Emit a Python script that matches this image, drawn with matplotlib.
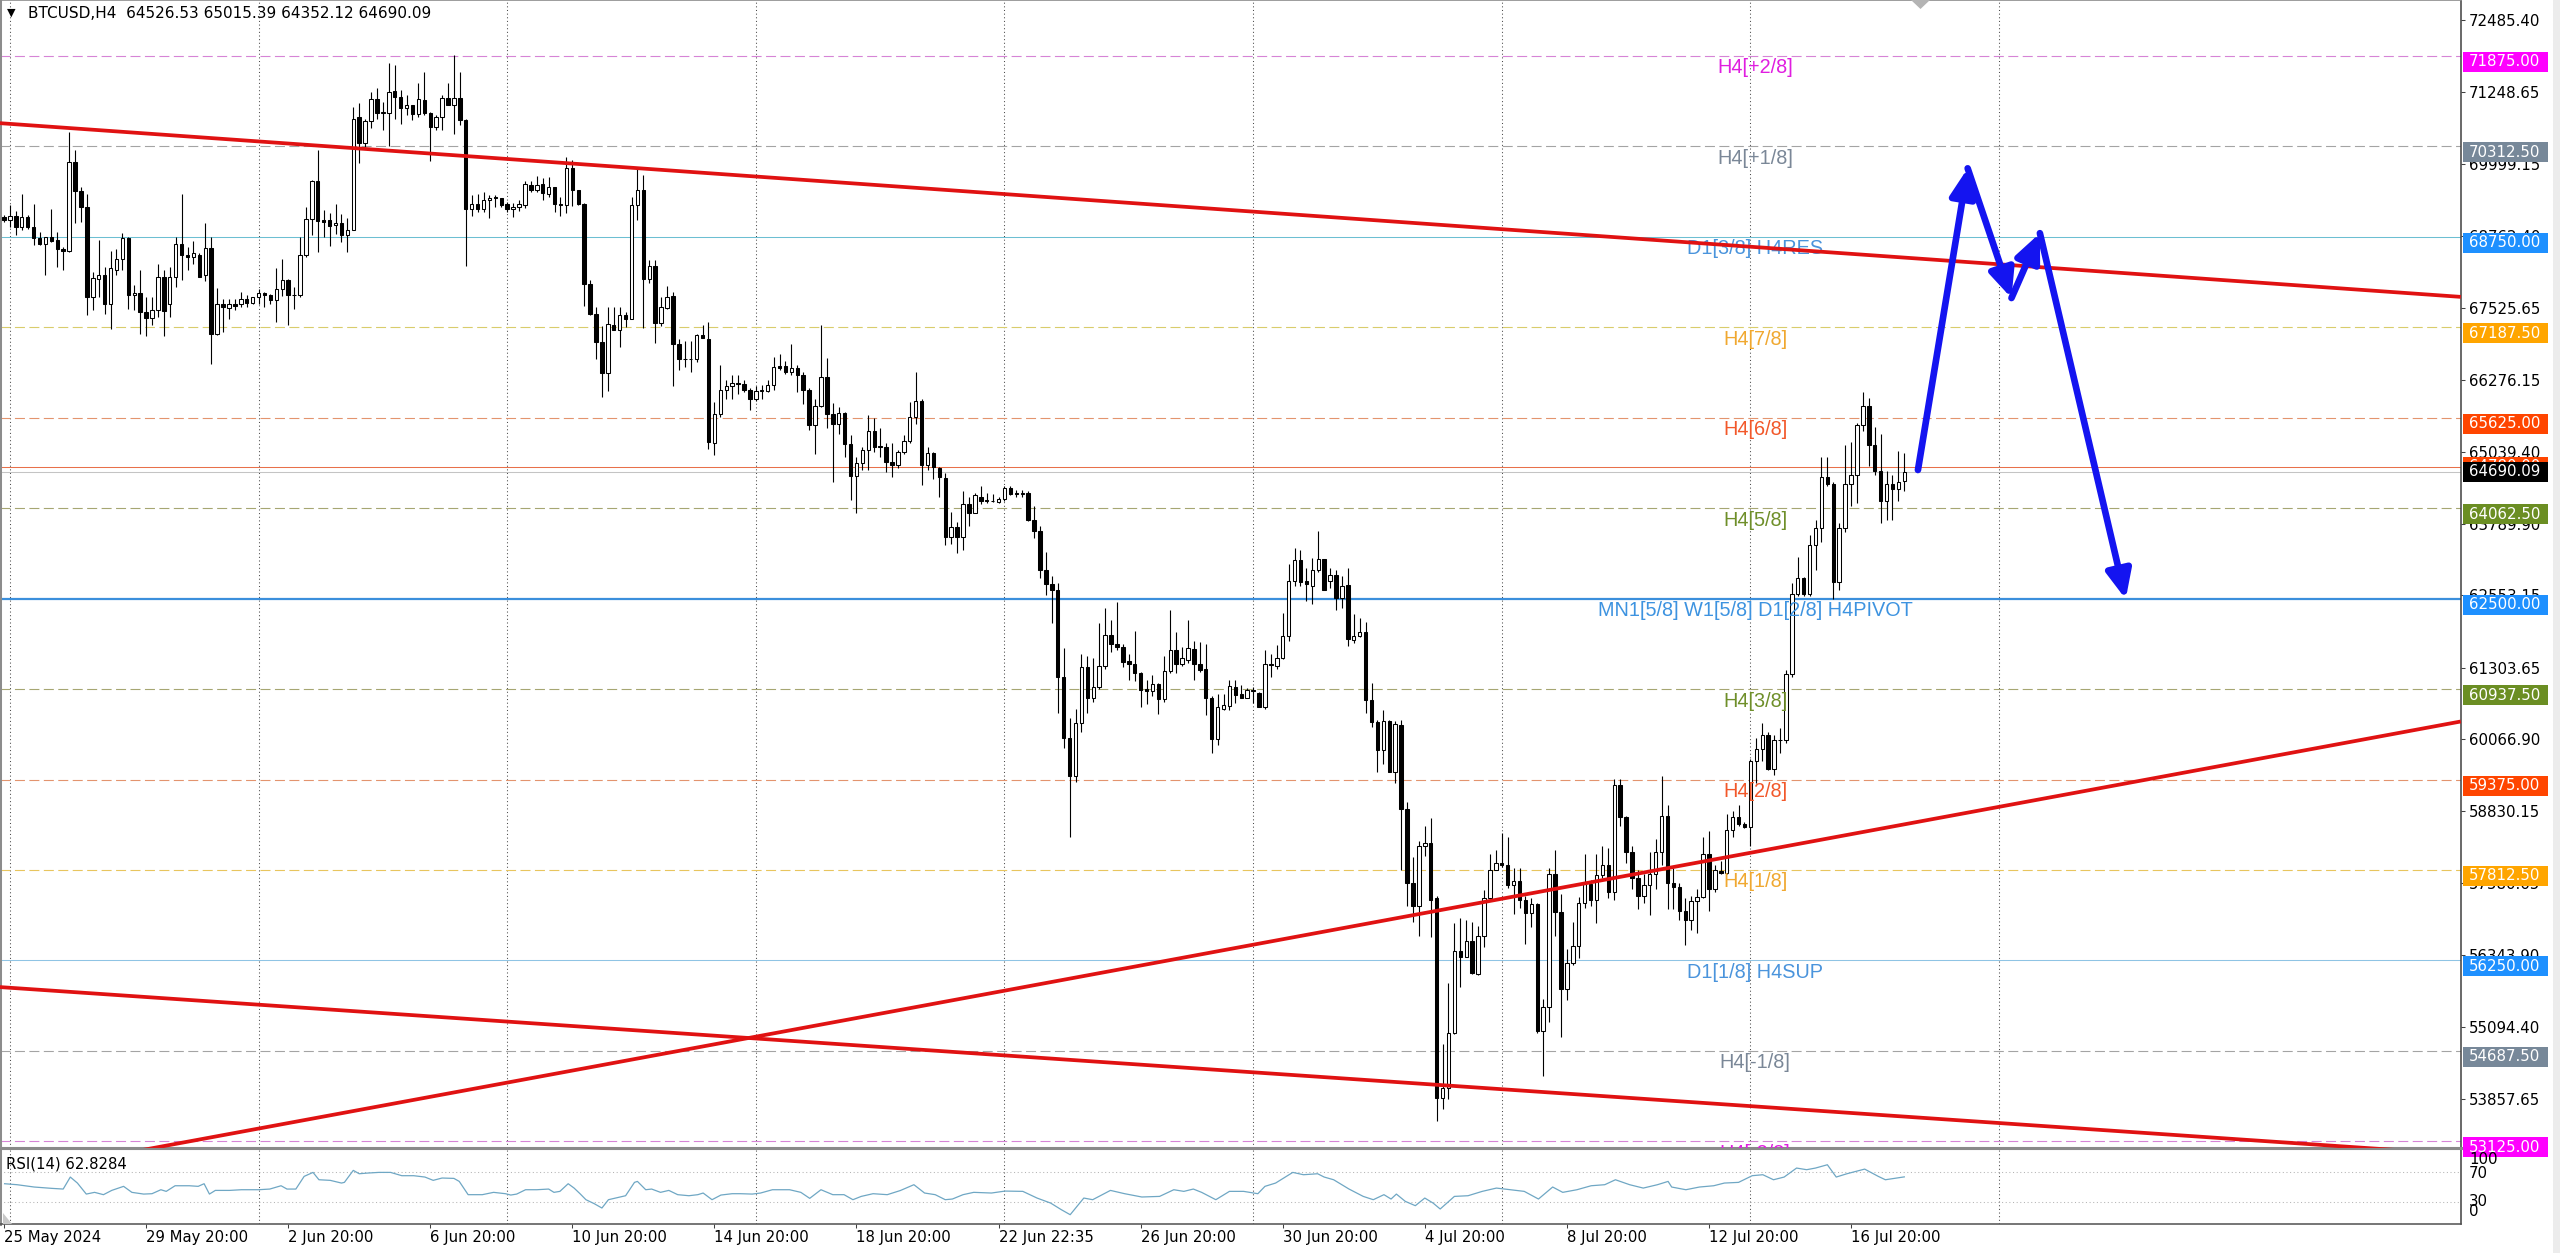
import matplotlib
matplotlib.use("Agg")
import matplotlib.pyplot as plt
from matplotlib.patches import Rectangle, Polygon

plt.rcParams["font.family"] = ["DejaVu Sans"]

# ---------------- data (BTCUSD H4) ----------------
opens = [
    69090, 69030, 69100, 68910, 69090, 68920, 68730, 68630, 68740, 68690,
    68540, 68510, 70040, 69540, 69260, 67700, 68020, 68080, 67590, 68180,
    68370, 68720, 67750, 67780, 67450, 67350, 67480, 68050, 67590, 68050,
    68620, 68430, 68400, 68440, 68080, 68560, 67070, 67580, 67520, 67580,
    67580, 67680, 67610, 67700, 67780, 67750, 67650, 67850, 68010, 67740,
    67740, 68430, 69060, 69710, 69030, 69030, 68950, 68990, 68770, 68870,
    70810, 70360, 70750, 71120, 70890, 70890, 71270, 71170, 70980, 71020,
    70870, 71110, 70890, 70640, 70810, 71150, 71020, 71140, 70770, 69230,
    69310, 69230, 69380, 69440, 69410, 69310, 69220, 69260, 69290, 69640,
    69560, 69660, 69490, 69600, 69320, 69290, 69930, 69550, 69320, 67940,
    67420, 66930, 66390, 67230, 67140, 67400, 67330, 69290, 69560, 68020,
    68250, 67260, 67520, 67720, 66900, 66640, 66630, 66630, 67060, 66990,
    65180, 65690, 66110, 66170, 66220, 66210, 66100, 65950, 66090, 66090,
    66180, 66510, 66510, 66410, 66480, 66360, 66110, 65490, 65820, 66330,
    65690, 65520, 65710, 65170, 64610, 64840, 65060, 65400, 65130, 65120,
    64860, 64800, 65030, 65220, 65630, 65920, 64800, 65020, 64750, 64590,
    63560, 63730, 63560, 64130, 63980, 64260, 64210, 64190, 64170, 64220,
    64410, 64320, 64310, 64320, 63850, 63670, 63000, 62750, 62640, 61140,
    60090, 59430, 60350, 61310, 60790, 60970, 61330, 61870, 61710, 61660,
    61430, 61370, 61220, 60930, 60910, 61020, 60760, 61250, 61610, 61370,
    61440, 61630, 61370, 61280, 60780, 60070, 60600, 60650, 60980, 60850,
    60790, 60920, 60870, 60620, 61370, 61330, 61470, 61850, 62810, 63160,
    62800, 62720, 62990, 63180, 62800, 62910, 62510, 62730, 61780, 61850,
    61930, 60740, 60370, 59890, 60390, 59500, 60320, 58860, 57590, 57190,
    58220, 58280, 57320, 53880, 54040, 55000, 56410, 56310, 56580, 56020,
    56680, 57330, 57820, 57930, 57890, 57550, 57620, 57290, 57070, 57230,
    55040, 55450, 57740, 57090, 55760, 56200, 56500, 57250, 57570, 57290,
    57720, 57890, 57440, 59280, 58720, 58120, 57670, 57370, 57550, 57740,
    58120, 58750, 57590, 57520, 57100, 56950, 57280, 57350, 58080, 57480,
    57790, 57760, 58510, 58720, 58600, 58550, 59690, 59910, 60150, 59550,
    60060, 60050, 61190, 62580, 62850, 62580, 63420, 63720, 64600, 64470,
    62780, 63720, 64470, 64640, 65500, 65820, 65150, 64700, 64190, 64470,
    64400, 64526.53,
]
highs = [
    69120, 69290, 69200, 69480, 69120, 69310, 68830, 68740, 69220, 68830,
    68570, 70560, 70240, 69610, 69480, 68140, 68700, 68230, 68500, 68540,
    68810, 68740, 67910, 68170, 67710, 67710, 68280, 68170, 68230, 68740,
    69490, 68570, 68680, 68460, 68980, 68740, 67870, 67680, 67680, 67680,
    67790, 67740, 67710, 67850, 67790, 67760, 68200, 68370, 68020, 67880,
    68740, 69260, 69720, 70240, 69210, 69150, 69310, 69140, 69080, 70990,
    71050, 70790, 71250, 71310, 71080, 71750, 71710, 71280, 71200, 71020,
    71400, 71600, 70910, 70850, 71200, 71400, 71890, 71600, 70790, 69470,
    69490, 69520, 69470, 69470, 69410, 69350, 69330, 69390, 69710, 69710,
    69790, 69770, 69780, 69600, 69440, 70130, 70080, 69550, 69330, 68000,
    67530, 67200, 67530, 67530, 67530, 67450, 69440, 69960, 69810, 68350,
    68350, 67700, 67900, 67800, 66990, 66950, 66950, 67070, 67220, 67270,
    65900, 66530, 66270, 66360, 66360, 66270, 66130, 66170, 66180, 66270,
    66670, 66730, 66600, 66890, 66530, 66410, 66140, 65950, 67230, 66660,
    65870, 65800, 65720, 65320, 64950, 65120, 65670, 65610, 65440, 65190,
    65190, 65060, 65320, 65900, 66410, 65940, 65120, 65030, 64780, 64660,
    64000, 63830, 64350, 64250, 64320, 64450, 64320, 64310, 64250, 64450,
    64450, 64380, 64370, 64360, 64090, 63760, 63300, 62890, 62770, 61640,
    60430, 60600, 61540, 61500, 61480, 62070, 62330, 62130, 62440, 61710,
    61550, 61940, 61240, 61090, 61180, 61040, 61500, 62300, 61930, 61670,
    62130, 61770, 61750, 61710, 60820, 60860, 60860, 61090, 61090, 61010,
    60950, 60970, 60890, 61620, 61540, 61700, 62250, 63100, 63370, 63330,
    63030, 63200, 63670, 63180, 63030, 62990, 62890, 63030, 62240, 62170,
    62090, 61050, 60410, 60570, 60400, 60390, 60400, 58980, 58030, 58320,
    58570, 58710, 57360, 54800, 55860, 56890, 56990, 56950, 56920, 56850,
    57470, 58080, 58160, 58450, 58390, 57840, 57840, 57360, 57330, 57250,
    55590, 57840, 58160, 57400, 56440, 56920, 57340, 58080, 57640, 58080,
    58220, 58190, 59390, 59390, 58750, 58230, 57820, 57740, 58120, 58340,
    59430, 58940, 57850, 57590, 57330, 57370, 57480, 58380, 58490, 57890,
    57970, 58780, 58830, 58940, 58640, 59730, 60100, 60350, 60200, 60140,
    60270, 61260, 62760, 63210, 62880, 63600, 63850, 64950, 64940, 64520,
    63810, 65160, 65200, 65540, 66070, 65970, 65460, 65350, 64710, 64640,
    65050, 65015.39,
]
lows = [
    69000, 68920, 68770, 68860, 68890, 68600, 68600, 68080, 68660, 68230,
    68170, 68490, 68980, 69000, 67390, 67480, 67710, 67420, 67160, 68080,
    68170, 67500, 67480, 67070, 67040, 67220, 67360, 67040, 67360, 67880,
    68000, 68170, 68280, 68050, 67980, 66550, 67060, 67100, 67330, 67480,
    67530, 67530, 67590, 67590, 67530, 67590, 67270, 67720, 67220, 67500,
    67710, 68400, 68770, 68490, 68740, 68580, 68800, 68660, 68490, 68860,
    70020, 70300, 70620, 70790, 70590, 70310, 70790, 70700, 70850, 70760,
    70820, 70850, 70060, 70590, 70600, 71020, 70530, 70680, 68240, 69100,
    69180, 69180, 69080, 69260, 69260, 69180, 69090, 69190, 69250, 69520,
    69520, 69380, 69440, 69180, 69100, 69150, 69280, 69290, 67560, 67390,
    66640, 65980, 66090, 67130, 66840, 67190, 67330, 69030, 67180, 67950,
    66910, 67200, 67500, 66170, 66450, 66500, 66410, 66580, 67000, 65090,
    64980, 65640, 65950, 65950, 66040, 66070, 65760, 65920, 65950, 66070,
    66100, 66440, 66380, 66360, 66070, 65860, 65410, 64990, 65800, 65440,
    64520, 65350, 64950, 64200, 63980, 64720, 64720, 65030, 64950, 64690,
    64600, 64750, 65000, 65180, 65520, 64460, 64720, 64560, 64260, 63430,
    63450, 63280, 63340, 63750, 63970, 64140, 64150, 64170, 64150, 64190,
    64280, 64260, 64250, 63840, 63550, 62850, 62560, 62070, 60520, 59920,
    58390, 59340, 60200, 60530, 60720, 60930, 61290, 61580, 61610, 61320,
    61100, 61080, 60620, 60680, 60810, 60510, 60720, 61220, 61220, 61330,
    61380, 61090, 61240, 60490, 59830, 59970, 60580, 60580, 60690, 60780,
    60780, 60690, 60620, 60590, 61150, 61280, 61460, 61770, 62720, 62720,
    62450, 62410, 62960, 62650, 62690, 62310, 62340, 61680, 61730, 61830,
    60520, 60280, 59500, 59650, 59500, 59310, 57820, 57190, 56910, 56680,
    58050, 56650, 53470, 53680, 53850, 54980, 55790, 56310, 56020, 56000,
    56480, 57290, 57810, 57870, 57500, 57060, 57160, 56540, 56820, 55000,
    54260, 55180, 56680, 54930, 55560, 56170, 56290, 57160, 57190, 56890,
    57670, 57330, 57290, 58570, 57930, 57480, 57140, 57250, 57030, 57480,
    57890, 57140, 57140, 56950, 56510, 56770, 56730, 57330, 57100, 57440,
    57740, 57740, 58380, 58570, 58530, 58230, 59310, 59690, 59540, 59460,
    59840, 60000, 61150, 62540, 62540, 62540, 62990, 63470, 64450, 62500,
    62650, 63650, 64100, 64150, 65390, 64790, 64640, 63810, 63850, 63850,
    64190, 64352.12,
]
closes = [
    69030, 69100, 68920, 69090, 68920, 68730, 68630, 68740, 68680, 68530,
    68510, 70040, 69540, 69260, 67700, 68040, 68080, 67590, 68200, 68370,
    68720, 67750, 67780, 67450, 67350, 67480, 68050, 67460, 68050, 68620,
    68430, 68400, 68460, 68050, 68560, 67070, 67580, 67530, 67580, 67560,
    67680, 67610, 67700, 67780, 67750, 67650, 67850, 68010, 67740, 67750,
    68430, 69060, 69710, 69020, 69000, 68930, 68990, 68770, 68870, 70790,
    70360, 70750, 71120, 70890, 70910, 71250, 71170, 70980, 71020, 70870,
    71120, 70890, 70640, 70810, 71150, 71020, 71140, 70770, 69230, 69310,
    69230, 69380, 69410, 69410, 69290, 69220, 69260, 69310, 69660, 69560,
    69640, 69510, 69610, 69320, 69290, 69930, 69550, 69320, 67940, 67420,
    66930, 66390, 67250, 67140, 67400, 67330, 69290, 69560, 68020, 68250,
    67260, 67530, 67700, 66900, 66630, 66630, 66640, 67060, 67000, 65210,
    65690, 66110, 66170, 66220, 66200, 66100, 65950, 66090, 66100, 66180,
    66500, 66490, 66410, 66480, 66360, 66100, 65490, 65820, 66330, 65690,
    65520, 65710, 65170, 64610, 64840, 65060, 65400, 65120, 65110, 64860,
    64800, 65030, 65220, 65630, 65920, 64800, 65020, 64780, 64600, 63560,
    63730, 63560, 64130, 63980, 64280, 64180, 64180, 64180, 64220, 64410,
    64310, 64310, 64320, 63850, 63670, 63000, 62750, 62640, 61140, 60090,
    59430, 60350, 61310, 60790, 60970, 61330, 61870, 61710, 61660, 61410,
    61370, 61220, 60920, 60910, 61020, 60760, 61250, 61610, 61370, 61470,
    61640, 61370, 61270, 60780, 60070, 60620, 60660, 60990, 60830, 60790,
    60920, 60910, 60630, 61370, 61350, 61470, 61850, 62810, 63160, 62790,
    62750, 62990, 63180, 62650, 62910, 62510, 62720, 61800, 61850, 61930,
    60740, 60370, 59890, 60390, 59500, 60330, 58860, 57590, 57190, 58220,
    58280, 57290, 53880, 54040, 55000, 56410, 56310, 56580, 56030, 56680,
    57330, 57820, 57930, 57890, 57550, 57620, 57290, 57070, 57230, 55040,
    55450, 57740, 57090, 55760, 56200, 56500, 57250, 57570, 57290, 57720,
    57890, 57440, 59280, 58720, 58120, 57670, 57370, 57550, 57740, 58120,
    58750, 57590, 57520, 57100, 56950, 57280, 57350, 58080, 57480, 57820,
    57760, 58510, 58720, 58600, 58550, 59690, 59910, 60140, 59550, 60060,
    60050, 61190, 62580, 62850, 62580, 63420, 63720, 64600, 64470, 62780,
    63720, 64470, 64640, 65500, 65820, 65150, 64700, 64190, 64470, 64400,
    64520, 64690.09,
]

# RSI(14) polyline vertices (bar position, value)
rsi_bar = [
    0.1, 2.2, 5.1, 8.1, 10.0, 11.2, 12.4, 13.9, 15.3, 16.8,
    18.2, 20.2, 21.6, 23.6, 25.0, 26.5, 27.4, 28.9, 31.3, 32.8,
    33.8, 34.7, 35.7, 38.1, 40.1, 43.0, 44.9, 46.8, 47.8, 49.3,
    50.7, 52.2, 53.2, 55.1, 57.0, 57.5, 59.0, 60.0, 61.4, 63.3,
    65.3, 67.2, 69.2, 71.1, 72.5, 74.0, 76.0, 76.9, 78.4, 80.8,
    82.7, 84.7, 85.6, 86.6, 88.1, 90.0, 92.0, 92.9, 93.9, 95.3,
    96.3, 97.3, 98.3, 99.7, 101.0, 102.1, 103.1, 105.0, 106.5, 107.0,
    108.4, 109.4, 110.9, 112.3, 113.8, 115.7, 117.2, 118.1, 119.6, 121.1,
    123.0, 124.4, 126.4, 127.8, 129.8, 132.7, 134.6, 136.1, 138.0, 140.0,
    141.9, 143.4, 144.8, 146.8, 149.2, 151.4,
    153.7, 155.5, 157.3, 159.0, 160.2, 162.0, 163.8, 166.8, 169.1, 172.1,
    174.5, 176.8, 178.6, 180.1, 182.4, 183.9, 186.9, 189.3, 192.2, 195.2,
    197.6, 199.3, 200.9, 202.3, 204.7, 207.0, 209.4, 211.8, 213.0, 214.8,
    217.7, 219.5, 221.9, 223.0, 224.6, 227.2, 229.6, 231.3, 233.1, 234.3,
    235.2, 236.7, 238.4, 240.0, 241.4, 242.6, 245.0, 247.3, 249.7, 252.1,
    254.4, 256.8, 259.2, 261.6, 263.3, 265.7, 268.1, 270.4, 272.2, 274.6,
    276.9, 279.3, 281.1, 281.7, 284.1, 286.4, 288.8, 290.6, 293.0, 295.3,
    297.1, 298.9, 300.7, 302.8, 304.5, 306.0, 308.0, 309.5, 311.3, 314.3,
    316.6, 317.8, 321.0,
]
rsi_val = [
    53.7, 52.4, 49.3, 47.5, 46.6, 62.6, 54.6, 39.9, 42.2, 39.1,
    44.8, 50.2, 42.2, 39.9, 40.4, 45.7, 43.5, 51.0, 51.0, 50.2,
    53.7, 39.9, 44.8, 44.8, 45.7, 45.7, 46.6, 51.0, 46.6, 46.6,
    63.5, 68.8, 59.0, 58.2, 54.6, 55.5, 71.5, 67.0, 67.9, 68.8,
    68.8, 64.4, 64.4, 62.6, 58.2, 61.3, 60.8, 56.8, 39.1, 39.1,
    42.2, 40.4, 38.6, 39.9, 45.7, 45.7, 46.6, 42.2, 43.5, 53.7,
    47.9, 40.4, 32.4, 27.1, 21.3, 32.4, 34.2, 37.7, 55.5, 56.8,
    45.7, 46.6, 42.2, 44.8, 39.1, 37.7, 39.1, 41.3, 32.4, 38.6,
    40.4, 40.4, 39.9, 41.3, 45.7, 45.7, 42.2, 34.2, 45.7, 39.1,
    39.1, 32.4, 36.8, 40.4, 39.1, 44.6,
    52.4, 41.3, 39.1, 32.4, 33.3, 39.1, 42.2, 41.3, 43.9, 43.5,
    34.6, 27.9, 19.1, 12.4, 34.6, 32.4, 44.8, 40.4, 36.0, 36.8,
    45.7, 43.5, 46.6, 42.2, 32.4, 43.5, 43.5, 40.4, 50.2, 54.6,
    68.8, 65.7, 67.0, 62.6, 59.0, 46.6, 36.8, 32.4, 39.1, 33.3,
    39.9, 30.2, 24.4, 34.6, 27.9, 20.0, 36.8, 37.7, 43.5, 47.9,
    45.7, 43.5, 33.3, 49.3, 42.2, 45.7, 51.0, 52.4, 59.0, 52.4,
    47.9, 52.4, 56.8, 49.3, 45.7, 49.3, 51.0, 54.6, 55.5, 64.4,
    65.7, 59.0, 62.6, 74.6, 72.4, 74.6, 79.0, 62.6, 67.0, 73.2,
    63.5, 59.0, 62.8284,
]

x_tick_bars = [0, 24, 48, 72, 96, 120, 144, 168, 192, 216, 240, 264, 288, 312]
x_tick_labels = ["25 May 2024", "29 May 20:00", "2 Jun 20:00", "6 Jun 20:00",
                 "10 Jun 20:00", "14 Jun 20:00", "18 Jun 20:00", "22 Jun 22:35",
                 "26 Jun 20:00", "30 Jun 20:00", "4 Jul 20:00", "8 Jul 20:00",
                 "12 Jul 20:00", "16 Jul 20:00"]
grid_bars = [1, 43, 85, 127, 169, 211, 253, 295, 337]

price_ticks = [72485.40, 71248.65, 69999.15, 68762.40, 67525.65, 66276.15,
               65039.40, 63789.90, 62553.15, 61303.65, 60066.90, 58830.15,
               57580.65, 56343.90, 55094.40, 53857.65]

levels = [71875, 70312.5, 68750, 67187.5, 65625, 64062.5, 62500,
          60937.5, 59375, 57812.5, 56250, 54687.5, 53125]
level_names = ["H4[+2/8]", "H4[+1/8]", "D1[3/8] H4RES", "H4[7/8]", "H4[6/8]",
               "H4[5/8]", "MN1[5/8] W1[5/8] D1[2/8] H4PIVOT", "H4[3/8]",
               "H4[2/8]", "H4[1/8]", "D1[1/8] H4SUP", "H4[-1/8]", "H4[-2/8]"]
ask_price = 64780

# trend lines: (bar positions, prices)
trend_lines = [
    ([-0.7, 415], [70710, 67710]),
    ([0, 415], [52534, 60377]),
    ([-0.7, 415], [55790, 52900]),
]
# forecast path drawn in blue
arrow_bars = [323.3, 331.7, 339.1, 343.9, 358.4]
arrow_prices = [64720, 69930, 67690, 68810, 62490]

# ---------------- styles ----------------
DASH = (0, (9, 4))
level_line_colors = ["#d684d6", "#a4a4a4", "#6cbfd2", "#d9cc6c", "#e3946e",
                     "#a6a672", "#3b8fdc", "#a6a672", "#e3946e", "#e8c55e",
                     "#8fc4e4", "#a4a4a4", "#d684d6"]
level_line_styles = [DASH, DASH, "-", DASH, DASH, DASH, "-", DASH, DASH, DASH, "-", DASH, DASH]
level_line_widths = [0.8, 0.8, 0.75, 0.8, 0.8, 0.8, 1.6, 0.8, 0.8, 0.8, 0.75, 0.8, 0.8]
level_text_colors = ["#e01ee0", "#7a8797", "#4a94dc", "#f0a830", "#f2582a",
                     "#6f8f2a", "#3d93e0", "#6f8f2a", "#f2582a", "#f0a830",
                     "#4a94dc", "#7a8797", "#e01ee0"]
level_box_colors = ["#ff00ff", "#778899", "#1e90ff", "#ffa500", "#ff4500",
                    "#6b8e23", "#1e90ff", "#6b8e23", "#ff4500", "#ffa500",
                    "#1e90ff", "#778899", "#ff00ff"]

W, H, DPI = 2560, 1253, 100
MAIN_BOT, RSI_TOP, RSI_BOT = 1148, 1149, 1224
AX_RIGHT = 2461
YMIN, YMAX = 53011, 72837
XMIN, XMAX = -4 / 5.92, (AX_RIGHT - 4) / 5.92


def fx(px):
    return px / W


def fy(py):
    return 1 - py / H


def price_px(p):
    return (YMAX - p) / (YMAX - YMIN) * MAIN_BOT


fig = plt.figure(figsize=(W / DPI, H / DPI), dpi=DPI, facecolor="white")
ax = fig.add_axes([0, fy(MAIN_BOT), fx(AX_RIGHT), MAIN_BOT / H])
ax_rsi = fig.add_axes([0, fy(RSI_BOT), fx(AX_RIGHT), (RSI_BOT - RSI_TOP) / H])

# vertical grid
for a in (ax, ax_rsi):
    for b in grid_bars:
        a.axvline(b, color="#4a4a4a", lw=0.75, ls=(0, (1, 2.5)), zorder=0.5)

# level lines + labels
for lvl, col, ls, lw in zip(levels, level_line_colors, level_line_styles, level_line_widths):
    ax.axhline(lvl, color=col, lw=lw, ls=ls, zorder=1)
ax.axhline(ask_price, color="#e8704a", lw=0.75, zorder=1)
ax.axhline(closes[-1], color="#c4c4c4", lw=0.75, zorder=1)

for lvl, name, col in zip(levels, level_names, level_text_colors):
    t = ax.annotate(name, (295.8, lvl), xytext=(0, -12), textcoords="offset pixels",
                    ha="center", va="center", color=col, fontsize=14.3,
                    family="Liberation Sans", zorder=5)
    t.set_clip_on(True)

# candles
idx = list(range(len(closes)))
ax.vlines(idx, lows, highs, color="black", lw=0.8, zorder=3)
bottoms = [min(o, c) for o, c in zip(opens, closes)]
heights = [max(abs(c - o), 8) for o, c in zip(opens, closes)]
faces = ["white" if c >= o else "black" for o, c in zip(opens, closes)]
ax.bar(idx, heights, bottom=bottoms, width=0.58, color=faces,
       edgecolor="black", linewidth=0.75, zorder=4)

# trend lines
for xs, ys in trend_lines:
    ax.plot(xs, ys, color="#e01212", lw=2.7, zorder=6, solid_capstyle="butt")

# blue forecast arrows
for i in range(len(arrow_bars) - 1):
    ax.annotate("", xy=(arrow_bars[i + 1], arrow_prices[i + 1]),
                xytext=(arrow_bars[i], arrow_prices[i]),
                arrowprops=dict(arrowstyle="-|>,head_length=0.85,head_width=0.38",
                                color="#1414f0", lw=4.8, mutation_scale=20,
                                shrinkA=0, shrinkB=0),
                zorder=7)

ax.set_xlim(XMIN, XMAX)
ax.set_ylim(YMIN, YMAX)
ax.yaxis.tick_right()
ax.set_yticks(price_ticks)
ax.set_yticklabels([f"{v:.2f}" for v in price_ticks])
ax.tick_params(axis="y", length=2.9, width=0.75, color="#404040", pad=2.5,
               labelsize=10.8, labelcolor="black")
ax.tick_params(axis="x", bottom=False, labelbottom=False)
ax.spines["left"].set(color="#8c8c8c", lw=2.9)
ax.spines["top"].set(color="#8c8c8c", lw=1.2)
ax.spines["bottom"].set(color="#8a8a8a", lw=2.2)
ax.spines["right"].set(color="#404040", lw=1.1)

# RSI panel
ax_rsi.plot(rsi_bar, rsi_val, color="#6fa7c4", lw=0.9, zorder=3)
for lv in (70, 30):
    ax_rsi.axhline(lv, color="#b4b4b4", lw=0.75, ls=(0, (1, 2.5)), zorder=1)
ax_rsi.set_xlim(XMIN, XMAX)
ax_rsi.set_ylim(0, 100)
ax_rsi.set_yticks([])
ax_rsi.set_xticks(x_tick_bars)
ax_rsi.set_xticklabels(x_tick_labels, ha="left")
ax_rsi.tick_params(axis="x", length=2.9, width=0.75, color="#404040", pad=1.5,
                   labelsize=10.7, labelcolor="black")
ax_rsi.spines["left"].set(color="#8c8c8c", lw=2.9)
ax_rsi.spines["top"].set(color="#8a8a8a", lw=1.5)
ax_rsi.spines["bottom"].set(color="#505050", lw=1.1)
ax_rsi.spines["right"].set(color="#404040", lw=1.1)
ax_rsi.text(6 / AX_RIGHT, 0.8, f"RSI(14) {rsi_val[-1]:.4f}", transform=ax_rsi.transAxes,
            fontsize=10.7, va="center", ha="left")

# right-axis price boxes for the levels
for lvl, bc in zip(levels, level_box_colors):
    yp = price_px(lvl)
    fig.patches.append(Rectangle((fx(2463), fy(yp + 16)), fx(85), 20 / H,
                                 transform=fig.transFigure, facecolor=bc,
                                 edgecolor="none", zorder=2))
    fig.text(fx(2469), fy(yp + 6), f"{lvl:.2f}", color="white", fontsize=10.8,
             va="center", ha="left", zorder=2.1)

# ask / bid boxes
for p, bc, z in ((ask_price, "#ff4500", 2.2), (closes[-1], "black", 2.4)):
    yp = price_px(p)
    fig.patches.append(Rectangle((fx(2463), fy(yp + 10)), fx(85), 20 / H,
                                 transform=fig.transFigure, facecolor=bc,
                                 edgecolor="none", zorder=z))
    fig.text(fx(2469), fy(yp), f"{p:.2f}", color="white", fontsize=10.8,
             va="center", ha="left", zorder=z + 0.1)

# RSI scale labels
for txt, ypx in (("100", 1160), ("70", 1173), ("30", 1202), ("0", 1212)):
    fig.text(fx(2469), fy(ypx), txt, fontsize=10.8, va="center", ha="left", zorder=3)

# header
fig.text(fx(7), fy(13), "\u25bc", fontsize=8, va="center", ha="left")
fig.text(fx(28), fy(14),
         f"BTCUSD,H4  {opens[-1]:.2f} {highs[-1]:.2f} {lows[-1]:.2f} {closes[-1]:.2f}",
         fontsize=11, va="center", ha="left")

# chart-shift marker, corner marker and right strip
fig.patches.append(Polygon([(fx(1911), fy(0)), (fx(1930), fy(0)), (fx(1920.5), fy(9))],
                           closed=True, transform=fig.transFigure,
                           facecolor="#b4b4b4", edgecolor="none", zorder=2))
fig.patches.append(Polygon([(fx(3), fy(1224)), (fx(3), fy(1213)), (fx(12), fy(1224))],
                           closed=True, transform=fig.transFigure,
                           facecolor="#c8c8c8", edgecolor="none", zorder=2))
fig.patches.append(Rectangle((fx(2553), 0), fx(7), 1, transform=fig.transFigure,
                             facecolor="#ececec", edgecolor="none", zorder=2))

fig.savefig("out.png", dpi=DPI)
